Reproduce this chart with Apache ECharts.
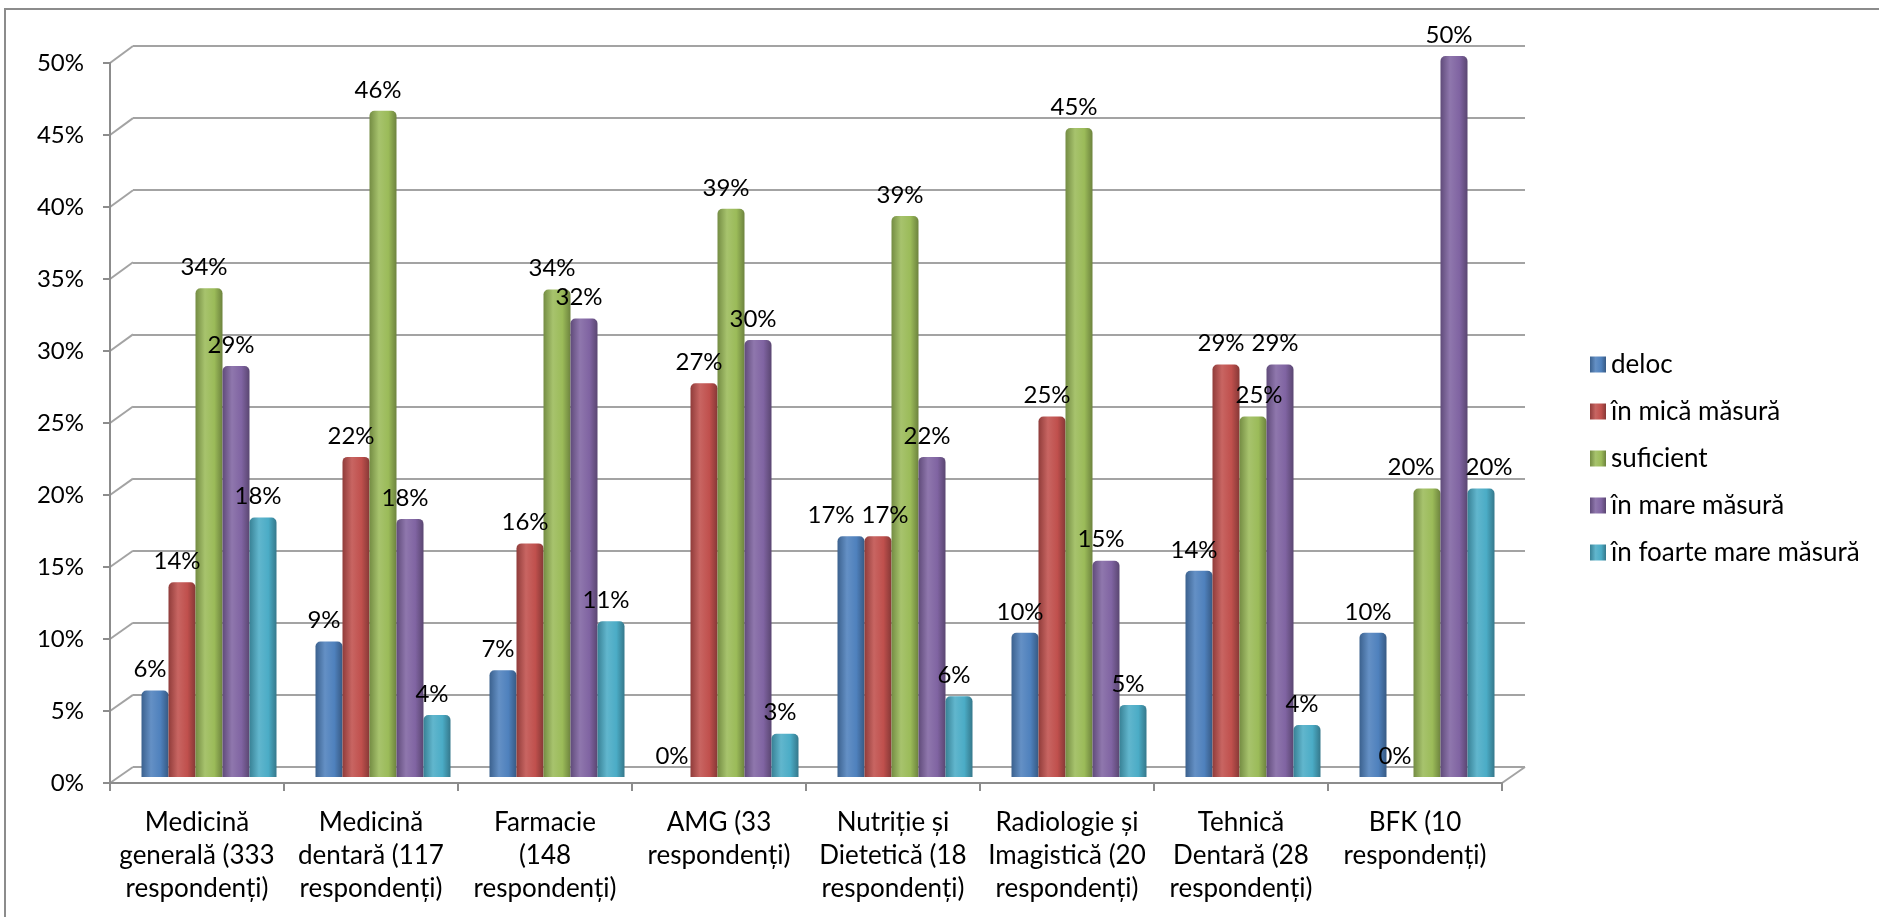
<!DOCTYPE html>
<html>
<head>
<meta charset="utf-8">
<script src="https://cdn.jsdelivr.net/npm/echarts@6/dist/echarts.min.js"></script>
<style>
  html, body { margin: 0; padding: 0; background: #fff; }
  #chart { width: 1879px; height: 917px; }
</style>
</head>
<body>
<div id="chart"></div>
<script>
// categories and series values (percent of respondents)
const categories = [
  'Medicină\ngenerală (333\nrespondenți)',
  'Medicină\ndentară (117\nrespondenți)',
  'Farmacie\n(148\nrespondenți)',
  'AMG (33\nrespondenți)',
  'Nutriție și\nDietetică (18\nrespondenți)',
  'Radiologie și\nImagistică (20\nrespondenți)',
  'Tehnică\nDentară (28\nrespondenți)',
  'BFK (10\nrespondenți)'
];
const seriesNames = ['deloc', 'în mică măsură', 'suficient', 'în mare măsură', 'în foarte mare măsură'];
const deloc      = [6.0, 9.4, 7.4, 0.0, 16.7, 10.0, 14.3, 10.0];
const micaMasura = [13.5, 22.2, 16.2, 27.3, 16.7, 25.0, 28.6, 0.0];
const suficient  = [33.9, 46.2, 33.8, 39.4, 38.9, 45.0, 25.0, 20.0];
const mareMasura = [28.5, 17.9, 31.8, 30.3, 22.2, 15.0, 28.6, 50.0];
const foarteMare = [18.0, 4.3, 10.8, 3.0, 5.6, 5.0, 3.6, 20.0];
const yTicks = [0, 5, 10, 15, 20, 25, 30, 35, 40, 45, 50];

const colors = ['#4F81BD', '#C0504D', '#9BBB59', '#8064A2', '#4BACC6'];
const values = [deloc, micaMasura, suficient, mareMasura, foarteMare];
const FONT = 'Lato';

// labels that Excel nudged apart (series index -> category index -> x offset)
const labelNudge = { 0: { 4: -20 }, 1: { 4: 7 }, 2: { 6: 6, 7: -16 }, 4: { 7: 8 } };

function shade(hex, f) {
  const n = parseInt(hex.slice(1), 16);
  let r = (n >> 16) & 255, g = (n >> 8) & 255, b = n & 255;
  if (f < 0) { r *= 1 + f; g *= 1 + f; b *= 1 + f; }
  else { r += (255 - r) * f; g += (255 - g) * f; b += (255 - b) * f; }
  return 'rgb(' + Math.round(r) + ',' + Math.round(g) + ',' + Math.round(b) + ')';
}

function cylinder(c) {
  return new echarts.graphic.LinearGradient(0, 0, 1, 0, [
    { offset: 0, color: shade(c, -0.25) },
    { offset: 0.35, color: shade(c, 0.12) },
    { offset: 0.7, color: c },
    { offset: 1, color: shade(c, -0.3) }
  ]);
}

const chart = echarts.init(document.getElementById('chart'));

const option = {
  animation: false,
  backgroundColor: '#fff',
  textStyle: { fontFamily: FONT },
  grid: [
    // front plane: axes and labels
    { left: 110, right: 377, top: 63, bottom: 134 },
    // back wall: gridlines
    { left: 133, right: 354, top: 46, bottom: 150 },
    // bars (mid depth)
    { left: 122, right: 365, top: 56, bottom: 140 }
  ],
  legend: {
    orient: 'vertical',
    left: 1585,
    top: 'middle',
    itemWidth: 16,
    itemHeight: 16,
    itemGap: 21,
    icon: 'rect',
    textStyle: { fontFamily: FONT, fontSize: 26, color: '#000' },
    data: seriesNames
  },
  xAxis: [
    {
      gridIndex: 0, type: 'category', data: categories,
      axisLine: { lineStyle: { color: '#8c8c8c', width: 2 } },
      axisTick: { show: true, length: 8, lineStyle: { color: '#8c8c8c', width: 2 } },
      axisLabel: { color: '#000', fontSize: 26, lineHeight: 33, margin: 23, fontFamily: FONT, interval: 0 }
    },
    { gridIndex: 1, type: 'category', data: categories, show: false },
    { gridIndex: 2, type: 'category', data: categories, show: false }
  ],
  yAxis: [
    {
      gridIndex: 0, type: 'value', min: yTicks[0], max: yTicks[yTicks.length - 1], interval: 5,
      axisLine: { show: true, lineStyle: { color: '#8c8c8c', width: 2 } },
      axisTick: { show: true, length: 7, lineStyle: { color: '#8c8c8c', width: 2 } },
      axisLabel: { color: '#000', fontSize: 24, margin: 26, fontFamily: FONT, formatter: '{value}%' },
      splitLine: { show: false }
    },
    {
      gridIndex: 1, type: 'value', min: yTicks[0], max: yTicks[yTicks.length - 1], interval: 5,
      axisLine: { show: false }, axisTick: { show: false }, axisLabel: { show: false },
      splitLine: { show: true, lineStyle: { color: '#a3a3a3', width: 2 } }
    },
    {
      gridIndex: 2, type: 'value', min: yTicks[0], max: yTicks[yTicks.length - 1], show: false,
      splitLine: { show: false }
    }
  ],
  series: seriesNames.map((name, i) => ({
    name: name,
    type: 'bar',
    xAxisIndex: 2,
    yAxisIndex: 2,
    barWidth: 27,
    barGap: '0%',
    color: colors[i],
    itemStyle: { color: cylinder(colors[i]), borderRadius: [5, 5, 0, 0] },
    label: {
      show: true,
      position: 'top',
      distance: 9,
      offset: [-5, 0],
      color: '#000',
      fontSize: 24,
      fontFamily: FONT,
      formatter: p => Math.round(p.value) + '%'
    },
    data: values[i].map((v, j) => {
      const dx = labelNudge[i] && labelNudge[i][j];
      return dx === undefined ? v : { value: v, label: { offset: [dx, 0] } };
    })
  }))
};

chart.setOption(option);

// slanted depth edges from the front axis to the back wall
const lines = [];
const edge = { stroke: '#a3a3a3', lineWidth: 2 };
const fr = chart.getModel().getComponent('grid', 0).coordinateSystem.getRect();
const br = chart.getModel().getComponent('grid', 1).coordinateSystem.getRect();
yTicks.forEach(v => {
  const f = chart.convertToPixel({ gridIndex: 0 }, [0, v]);
  const b = chart.convertToPixel({ gridIndex: 1 }, [0, v]);
  lines.push({ type: 'line', shape: { x1: fr.x, y1: f[1], x2: br.x, y2: b[1] }, style: edge, silent: true });
});
lines.push({ type: 'line', shape: { x1: fr.x + fr.width, y1: fr.y + fr.height, x2: br.x + br.width, y2: br.y + br.height }, style: edge, silent: true });
lines.push({ type: 'rect', shape: { x: 5, y: 9, width: 1900, height: 920 }, style: { fill: 'none', stroke: '#8c8c8c', lineWidth: 2 }, silent: true });
chart.setOption({ graphic: lines });
</script>
</body>
</html>
